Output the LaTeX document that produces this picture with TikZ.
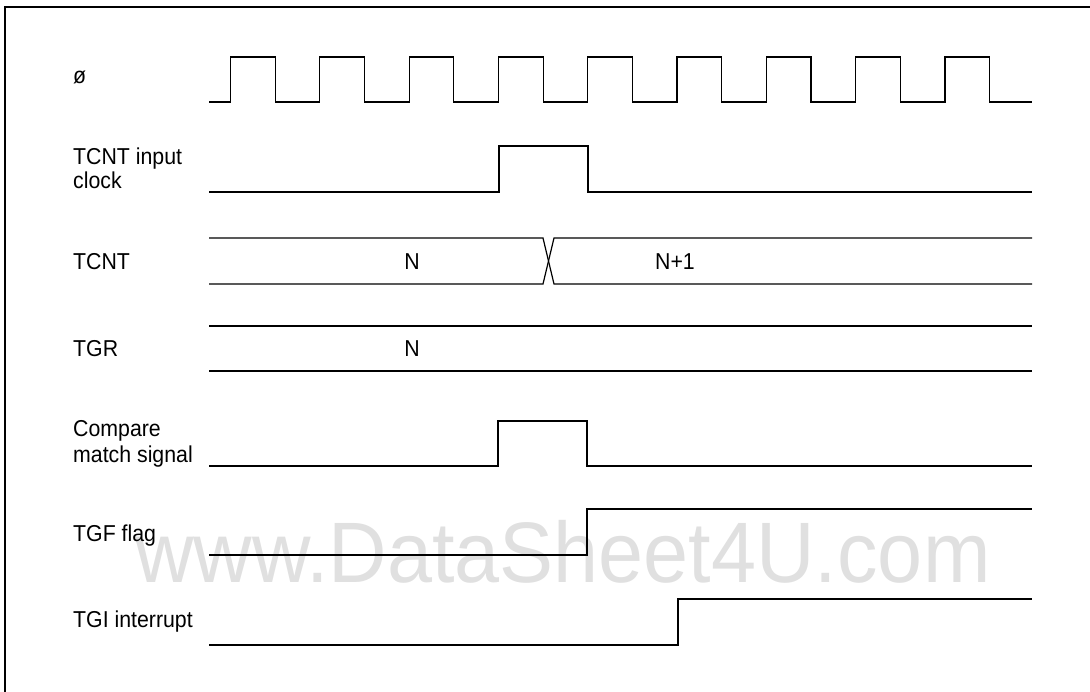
\documentclass[tikz,border=0pt]{standalone}
\usepackage{fontspec}
\setmainfont{Liberation Sans}
\definecolor{wm}{RGB}{224,224,224}
\newcommand{\tallr}[1]{\scalebox{1}[1.08]{#1}}
\begin{document}
\begin{tikzpicture}[x=1pt,y=-1pt,
  sig/.style={line width=1.2pt, line join=miter},
  frame/.style={line width=1.5pt},
  lbl/.style={anchor=base west, inner sep=0pt, font=\fontsize{21.3}{21}\selectfont},
  val/.style={anchor=base, inner sep=0pt, font=\fontsize{21.3}{21}\selectfont},
  watermark/.style={anchor=base west, inner sep=0pt, text=wm, font=\fontsize{81}{81}\selectfont}]
\useasboundingbox (0,0) rectangle (1090,692);
% watermark
\node[watermark] (wmk) at (135,582) {\scalebox{1}[1.06]{www.DataSheet4U.com}};
% frame
\draw[frame] (5,692) -- (5,7) -- (1090,7);
% labels
\node[lbl] (lphi) at (73,84) {\tallr{ø}};
\node[lbl] (lin) at (73,165) {\tallr{\begin{tabular}[t]{@{}l@{}}TCNT input\\clock\end{tabular}}};
\node[lbl] (lcnt) at (73,270) {\tallr{TCNT}};
\node[lbl] (ltgr) at (73,357) {\tallr{TGR}};
\node[lbl] (lcmp) at (73,437) {\tallr{\begin{tabular}[t]{@{}l@{}}Compare\\[1.5pt]match signal\end{tabular}}};
\node[lbl] (ltgf) at (73,541) {\tallr{TGF flag}};
\node[lbl] (ltgi) at (73,627) {\tallr{TGI interrupt}};
% clock
\draw[sig] (209,102) \foreach \k in {0,...,8}{ -- ({230.5+89.3*\k},102) -- ++(0,-45) -- ++(44.7,0) -- ++(0,45)} -- (1032,102);
% TCNT input clock
\draw[sig] (209,192) -- (499,192) -- (499,146) -- (588,146) -- (588,192) -- (1032,192);
% TCNT bus
\draw[sig] (209,238) -- (543,238) -- (554,284) -- (1032,284);
\draw[sig] (209,284) -- (543,284) -- (554,238) -- (1032,238);
\node[val] (vn) at (412,270) {\tallr{N}};
\node[val] (vn1) at (675,270) {\tallr{N+1}};
% TGR bus
\draw[sig] (209,326) -- (1032,326);
\draw[sig] (209,371) -- (1032,371);
\node[val] (vtgr) at (412,357) {\tallr{N}};
% compare match
\draw[sig] (209,466) -- (498,466) -- (498,421) -- (587,421) -- (587,466) -- (1032,466);
% TGF flag
\draw[sig] (209,555) -- (587,555) -- (587,509) -- (1032,509);
% TGI interrupt
\draw[sig] (209,645) -- (678,645) -- (678,599) -- (1032,599);
\end{tikzpicture}
\end{document}
